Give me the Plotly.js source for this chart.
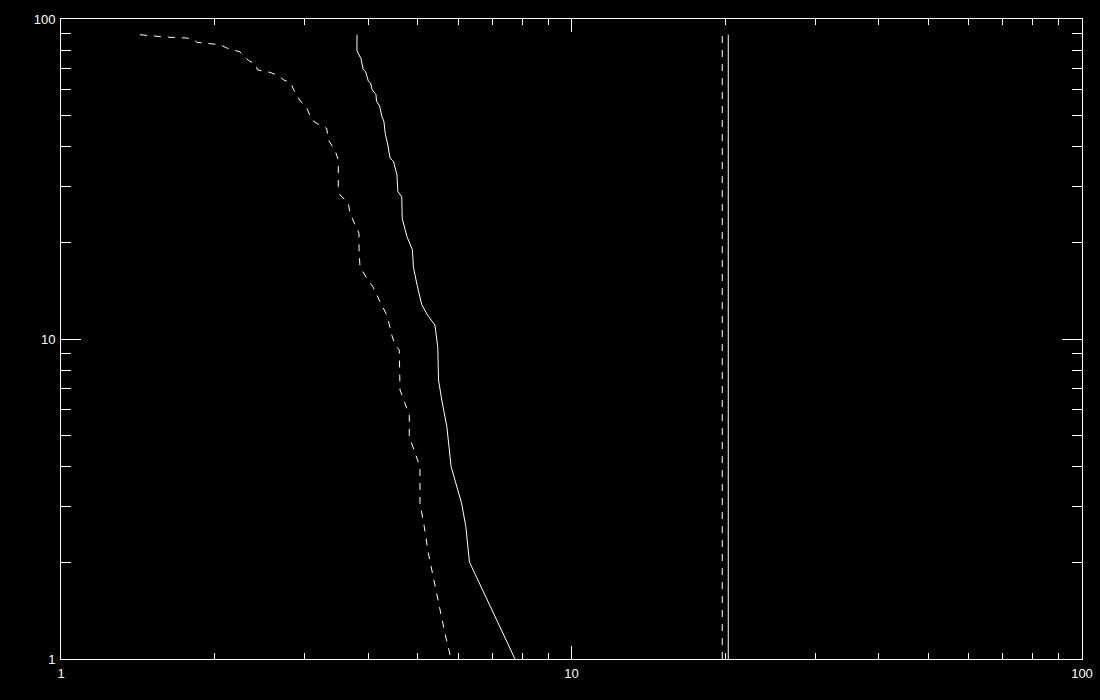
<!DOCTYPE html>
<html>
<head>
<meta charset="utf-8">
<script src="https://cdn.plot.ly/plotly-3.0.1.min.js"></script>
<style>html,body{margin:0;padding:0;background:#000;}#chart{width:1100px;height:700px;}</style>
</head>
<body>
<div id="chart"></div>
<script>
// Solid cumulative curve
const solidX = [3.80, 3.80, 3.87, 3.91, 3.95, 4.00, 4.04, 4.07, 4.14, 4.15, 4.21, 4.25, 4.29, 4.32, 4.36, 4.39, 4.41, 4.48, 4.55, 4.57, 4.65, 4.66, 4.76, 4.88, 4.90, 4.99, 5.09, 5.22, 5.40, 5.47, 5.49, 5.57, 5.70, 5.81, 5.91, 6.09, 6.21, 6.31, 7.75];
const solidY = [89.3, 79.6, 75.1, 69.4, 68.6, 63.9, 63.1, 60.1, 58.0, 55.3, 53.4, 49.7, 47.9, 43.5, 41.0, 38.1, 36.8, 35.9, 32.6, 28.9, 27.8, 23.8, 20.9, 19.0, 16.8, 14.6, 12.8, 11.9, 11.06, 9.46, 7.44, 6.45, 5.32, 3.99, 3.63, 3.07, 2.59, 2.01, 1.0];

// Dashed cumulative curve
const dashX = [1.428, 1.604, 1.763, 1.816, 1.845, 1.974, 2.049, 2.112, 2.242, 2.328, 2.410, 2.424, 2.567, 2.665, 2.726, 2.822, 2.851, 2.909, 2.939, 3.019, 3.098, 3.169, 3.315, 3.339, 3.441, 3.493, 3.493, 3.520, 3.654, 3.682, 3.795, 3.835, 3.835, 3.852, 3.970, 4.079, 4.215, 4.345, 4.390, 4.444, 4.511, 4.599, 4.614, 4.683, 4.811, 4.811, 4.936, 5.048, 5.048, 5.148, 5.243, 5.324, 5.444, 5.544, 5.652, 5.808];
const dashY = [89.3, 87.8, 87.2, 86.6, 84.6, 83.5, 83.1, 81.2, 78.9, 74.3, 72.0, 69.4, 68.1, 66.5, 64.6, 63.1, 60.4, 57.3, 55.5, 53.4, 48.4, 47.2, 45.5, 41.9, 38.9, 36.3, 29.9, 28.2, 26.6, 24.7, 22.4, 21.4, 19.0, 16.8, 15.5, 14.6, 13.1, 11.9, 11.2, 10.3, 9.58, 9.24, 6.93, 6.53, 5.79, 4.95, 4.39, 3.99, 3.07, 2.59, 2.14, 1.90, 1.60, 1.41, 1.20, 1.0];

// Vertical reference lines
const dashRefX = [19.74, 19.74];
const solidRefX = [20.28, 20.28];
const refY = [1.0, 89.3];

// Ticks
const majorTicks = [1, 10, 100];
const majorLabels = ['1', '10', '100'];
const minorTicks = [2, 3, 4, 5, 6, 7, 8, 9, 20, 30, 40, 50, 60, 70, 80, 90];

const lineStyle = {color: '#ffffff', width: 1};
const dashStyle = {color: '#ffffff', width: 1, dash: '7px,7px'};

const traces = [
  {x: solidX, y: solidY, mode: 'lines', line: lineStyle, hoverinfo: 'skip'},
  {x: dashX, y: dashY, mode: 'lines', line: dashStyle, hoverinfo: 'skip'},
  {x: dashRefX, y: refY, mode: 'lines', line: dashStyle, hoverinfo: 'skip'},
  {x: solidRefX, y: refY, mode: 'lines', line: lineStyle, hoverinfo: 'skip'}
];

function axis(majorLen, minorLen) {
  return {
    type: 'log', range: [0, 2], autorange: false,
    showline: true, linecolor: '#ffffff', linewidth: 1, mirror: 'allticks',
    ticks: 'inside', tickmode: 'array', tickvals: majorTicks, ticktext: majorLabels,
    ticklen: majorLen, tickwidth: 1, tickcolor: '#ffffff',
    minor: {ticks: 'inside', tickmode: 'array', tickvals: minorTicks, ticklen: minorLen, tickwidth: 1, tickcolor: '#ffffff', showgrid: false},
    showgrid: false, zeroline: false,
    tickfont: {family: 'Liberation Sans, Arial, sans-serif', size: 13, color: '#ffffff'},
    ticklabelstandoff: 2
  };
}

const layout = {
  width: 1100, height: 700,
  margin: {l: 61, r: 18, t: 19, b: 41, pad: 0},
  paper_bgcolor: '#000000', plot_bgcolor: '#000000',
  showlegend: false,
  xaxis: axis(13, 6),
  yaxis: axis(20, 10)
};

Plotly.newPlot('chart', traces, layout, {displayModeBar: false, staticPlot: true});
</script>
</body>
</html>
